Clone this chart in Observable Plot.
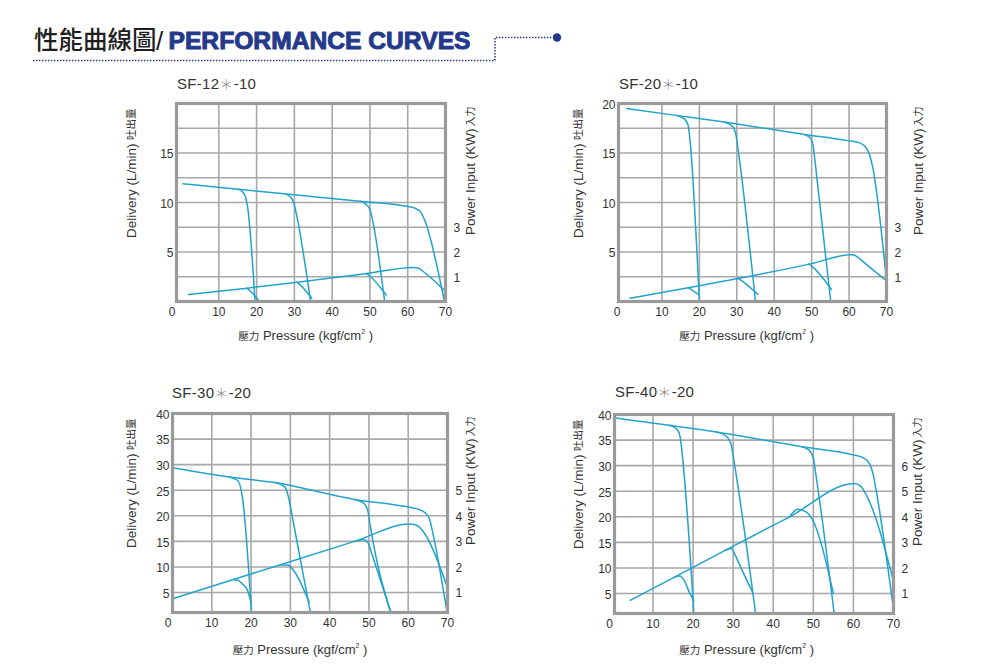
<!DOCTYPE html>
<html><head><meta charset="utf-8">
<script src="https://cdn.jsdelivr.net/npm/d3@7"></script>
<script src="https://cdn.jsdelivr.net/npm/@observablehq/plot@0.6"></script>
<style>
html,body{margin:0;padding:0;background:#fff;}
#page{position:relative;width:989px;height:669px;overflow:hidden;font-family:"Liberation Sans","Noto Sans CJK TC",sans-serif;}
.chart{position:absolute;}
#overlay{position:absolute;left:0;top:0;pointer-events:none;}
</style></head><body><div id="page"></div>
<script>
// ---------- texts ----------
const pageTitleZh = "性能曲線圖";
const pageTitleSlash = "/";
const pageTitleEn = "PERFORMANCE CURVES";
const models = ["SF-12＊-10", "SF-20＊-10", "SF-30＊-20", "SF-40＊-20"];
const yLabelEn = "Delivery (L/min)";
const yLabelZh = "吐出量";
const y2LabelEn = "Power Input (KW)";
const y2LabelZh = "入力";
const xLabelZh = "壓力";
const xLabelEn = " Pressure (kgf/cm";
const xLabelSup = "2";
const xLabelEnd = " )";

// ---------- ticks ----------
const xTickLabels = [0, 10, 20, 30, 40, 50, 60, 70];
const yGridSmall = [0, 2.5, 5, 7.5, 10, 12.5, 15, 17.5, 20];
const yGridLarge = [5, 10, 15, 20, 25, 30, 35, 40];
const yTicksSF12 = [5, 10, 15];
const yTicksSF20 = [5, 10, 15, 20];
const yTicksLarge = [5, 10, 15, 20, 25, 30, 35, 40];
const kwTicksSmall = [1, 2, 3];
const kwTicksSF30 = [1, 2, 3, 4, 5];
const kwTicksSF40 = [1, 2, 3, 4, 5, 6];

// ---------- data: [pressure kgf/cm2, delivery L/min] ----------
const sf12Delivery = [
  [[0.5,11.9],[15,11.35],[28,10.85],[48,10.1],[60,9.6],[62,9.4],[63.5,9.0],[64.5,8.2],[69.7,0]],
  [[15,11.35],[16.2,11.1],[17.1,10.5],[17.6,9.6],[19.6,0]],
  [[27.5,10.87],[29,10.55],[29.9,9.9],[30.5,8.9],[34.3,0]],
  [[47.5,10.12],[49,9.8],[50,9.3],[50.6,8.4],[53.9,0]]
];
// [pressure, power kW]
const sf12Power = [
  [[2,0.28],[17.5,0.54],[30.8,0.78],[49.2,1.13],[61.5,1.37],[62.7,1.35],[63.7,1.26],[64.7,1.14],[69.8,0.44]],
  [[17.4,0.54],[18.0,0.47],[20.5,0.05]],
  [[30.6,0.78],[31.3,0.7],[34.6,0.13]],
  [[49.1,1.13],[49.9,1.04],[54.3,0.26]]
];
const sf20Delivery = [
  [[0.6,19.5],[13.8,18.8],[27.1,18.1],[48.6,16.85],[59.5,16.25],[62.6,16.05],[64.4,15.6],[65.5,14.8],[66.3,13.6],[70,2.1]],
  [[13.8,18.8],[16,18.45],[17,17.8],[17.5,16.3],[20,0]],
  [[26.7,18.1],[28.8,17.7],[29.8,16.8],[30.3,15.5],[35,0]],
  [[48.2,16.85],[49.8,16.45],[50.5,15.5],[50.9,14.2],[55.1,0]]
];
const sf20Power = [
  [[1.5,0.13],[20,0.64],[30.7,0.94],[50,1.53],[60.4,1.89],[61.3,1.88],[62.4,1.78],[63.5,1.64],[70,0.83]],
  [[17.1,0.55],[17.8,0.48],[20,0.26]],
  [[30.3,0.94],[31,0.87],[35.6,0.29]],
  [[49.2,1.51],[50,1.43],[55.3,0.48]]
];
const sf30Delivery = [
  [[0.4,29.35],[14.4,27.6],[26,26.5],[46.4,23.2],[59.4,21.8],[62.5,21.3],[64.3,20.6],[65.5,19.2],[66.2,16.9],[69.7,2]],
  [[14.4,27.6],[16.5,26.95],[17.4,25.3],[17.9,23],[20.1,1.1]],
  [[26,26.5],[28.6,25.6],[29.6,23.4],[30.3,20.6],[35.1,1.1]],
  [[46.4,23.2],[48.8,22.4],[49.8,20.7],[50.2,18.7],[55.6,1.1]]
];
const sf30Power = [
  [[0,0.76],[15.5,1.51],[27.5,2.09],[46.5,3.01],[60.3,3.68],[61.8,3.65],[63.2,3.5],[64.3,3.28],[70,1.2]],
  [[15.5,1.51],[16.8,1.47],[17.8,1.33],[19,1.12],[20,0.6]],
  [[27.5,2.09],[29.5,2.07],[30.7,1.89],[34.8,0.62]],
  [[46.5,3.01],[48.6,3.07],[49.8,2.94],[50.6,2.58],[55.4,0.3]]
];
const sf40Delivery = [
  [[0.9,39.3],[14,37.9],[25.8,36.6],[47.2,33.7],[60,32.1],[62.3,31.6],[64,30.4],[64.9,28.4],[65.6,25.5],[69.9,2.5]],
  [[14.1,37.9],[16,37.1],[16.8,35.5],[17.2,33],[20.2,1.1]],
  [[25.8,36.6],[28.5,35.6],[29.6,33.8],[30.2,31],[35.6,1.1]],
  [[47.2,33.7],[49,33],[50,31.5],[50.5,29],[55.2,1.1]]
];
const sf40Power = [
  [[4.3,0.73],[15.5,1.65],[28,2.69],[44,3.99],[60.2,5.3],[61.8,5.2],[63.2,4.86],[69.9,1.54]],
  [[15.5,1.65],[16.7,1.69],[17.9,1.48],[19.2,1.0],[20.2,0.73]],
  [[28,2.69],[29.6,2.76],[30.4,2.54],[31.7,2.09],[35,1.0]],
  [[44,3.99],[46.1,4.3],[48.3,4.18],[49.6,3.94],[55,1.0]]
];

// ---------- styles ----------
const lineColor = "#22a3cb";
const gridColor = "#a8a8a8";
const frameColor = "#9a9a9a";
const navy = "#24398b";
const textColor = "#333";
const latin = "Liberation Sans, Arial, sans-serif";
const cjk = "Noto Sans CJK TC, sans-serif";

const M = {left: 70, right: 50, top: 12, bottom: 30};

const charts = [
  {model: models[0], box: [106, 91, 389, 240], xDomain: [-1.2, 70], yDomain: [0, 20], yGrid: yGridSmall, yTicks: yTicksSF12, kw: kwTicksSmall, factor: 2.5, delivery: sf12Delivery, power: sf12Power, zeroDx: -4.5, ylDx: -45, yrDx: 25, titlePos: [177, 88.5], xlab: [305.7, 340]},
  {model: models[1], box: [548, 91, 388, 240], xDomain: [-1.6, 70], yDomain: [0, 20], yGrid: yGridSmall, yTicks: yTicksSF20, kw: kwTicksSmall, factor: 2.5, delivery: sf20Delivery, power: sf20Power, zeroDx: -1.5, ylDx: -40, yrDx: 32, titlePos: [619, 88.5], xlab: [746.7, 340]},
  {model: models[2], box: [102, 401, 395, 241], xDomain: [0, 70], yDomain: [1.1, 40], yGrid: yGridLarge, yTicks: yTicksLarge, kw: kwTicksSF30, factor: 5, delivery: sf30Delivery, power: sf30Power, zeroDx: -4.5, ylDx: -41, yrDx: 23, titlePos: [172, 398.3], xlab: [300, 654]},
  {model: models[3], box: [544, 402, 399, 241], xDomain: [0.4, 70], yDomain: [1.1, 40], yGrid: yGridLarge, yTicks: yTicksLarge, kw: kwTicksSF40, factor: 5, delivery: sf40Delivery, power: sf40Power, zeroDx: -5, ylDx: -36, yrDx: 24, titlePos: [615, 396.5], xlab: [746.7, 654]}
];

function toRows(list, prefix, scale) {
  return list.flatMap((pts, i) => pts.map(([x, v]) => ({x, y: v * scale, id: prefix + i})));
}

const page = document.getElementById("page");

for (const c of charts) {
  const rows = toRows(c.delivery, "d", 1).concat(toRows(c.power, "p", c.factor));
  const [left, top, width, height] = c.box;
  const svg = Plot.plot({
    width, height,
    marginLeft: M.left, marginRight: M.right, marginTop: M.top, marginBottom: M.bottom,
    x: {domain: c.xDomain, label: null},
    y: {domain: c.yDomain, label: null},
    style: {fontFamily: latin, fontSize: "12px", color: textColor, background: "transparent", overflow: "visible"},
    marks: [
      Plot.ruleX(xTickLabels.slice(1, -1), {stroke: gridColor, strokeWidth: 1.6}),
      Plot.ruleY(c.yGrid, {stroke: gridColor, strokeWidth: 1.6}),
      Plot.line(rows, {x: "x", y: "y", z: "id", stroke: lineColor, strokeWidth: 1.5, curve: "monotone-x", clip: true}),
      Plot.frame({stroke: frameColor, strokeWidth: 3.2}),
      Plot.axisX(xTickLabels.slice(1), {tickSize: 0, tickPadding: 6, label: null}),
      Plot.text([xTickLabels[0]], {text: d => d, frameAnchor: "bottom-left", textAnchor: "middle", lineAnchor: "middle", dx: c.zeroDx, dy: 10.5, fontSize: 12, fill: textColor}),
      Plot.axisY(c.yTicks, {tickSize: 0, tickPadding: 3, dy: 1.5, label: null}),
      Plot.axisY(c.kw.map(k => k * c.factor), {anchor: "right", tickSize: 0, tickPadding: 8, dy: 1, tickFormat: d => d / c.factor, label: null}),
      Plot.text([yLabelZh], {text: d => d, frameAnchor: "top-left", rotate: -90, textAnchor: "end", lineAnchor: "middle", dx: c.ylDx, dy: 5, fontSize: 10.5, fontFamily: cjk, fill: textColor}),
      Plot.text([yLabelEn], {text: d => d, frameAnchor: "top-left", rotate: -90, textAnchor: "end", lineAnchor: "middle", dx: c.ylDx, dy: 40, fontSize: 13.5, fill: textColor}),
      Plot.text([y2LabelZh], {text: d => d, frameAnchor: "top-right", rotate: -90, textAnchor: "end", lineAnchor: "middle", dx: c.yrDx, dy: 3, fontSize: 10, fontFamily: cjk, fill: textColor}),
      Plot.text([y2LabelEn], {text: d => d, frameAnchor: "top-right", rotate: -90, textAnchor: "end", lineAnchor: "middle", dx: c.yrDx, dy: 25, fontSize: 13.5, fill: textColor})
    ]
  });
  const wrap = document.createElement("div");
  wrap.className = "chart";
  wrap.style.left = left + "px";
  wrap.style.top = top + "px";
  wrap.appendChild(svg);
  page.appendChild(wrap);
}

// ---------- overlay: header, model names, x labels ----------
const ov = d3.select(page).append("svg").attr("id", "overlay").attr("width", 989).attr("height", 669);
ov.append("path").attr("d", "M33,60.5H495V37.5H553").attr("fill", "none")
  .attr("stroke", navy).attr("stroke-width", 1.5).attr("stroke-dasharray", "1.4 1.6");
ov.append("circle").attr("cx", 557).attr("cy", 37.5).attr("r", 4.2).attr("fill", navy);
ov.append("text").attr("x", 34).attr("y", 49).attr("font-family", cjk).attr("font-size", 24.5)
  .attr("font-weight", 500).attr("fill", "#1e1e1e").text(pageTitleZh);
ov.append("text").attr("x", 156).attr("y", 49.5).attr("font-family", latin).attr("font-size", 26)
  .attr("fill", "#1e1e1e").text(pageTitleSlash);
ov.append("text").attr("x", 168.5).attr("y", 49).attr("font-family", latin).attr("font-size", 24.5)
  .attr("font-weight", "bold").attr("fill", navy).attr("stroke", navy).attr("stroke-width", 1)
  .attr("stroke-linejoin", "round")
  .attr("textLength", 302).attr("lengthAdjust", "spacingAndGlyphs").text(pageTitleEn);

for (const c of charts) {
  const [pre, post] = c.model.split("＊");
  const m = ov.append("text").attr("x", c.titlePos[0]).attr("y", c.titlePos[1]).attr("font-family", latin)
    .attr("font-size", 15).attr("letter-spacing", 0.3).attr("fill", textColor);
  m.append("tspan").text(pre);
  m.append("tspan").attr("font-family", cjk).attr("font-weight", 300).attr("font-size", 14).attr("fill", "#8a8a8a").text("＊");
  m.append("tspan").text(post);
  const t = ov.append("text").attr("x", c.xlab[0]).attr("y", c.xlab[1]).attr("text-anchor", "middle")
    .attr("fill", textColor).attr("font-family", latin);
  t.append("tspan").attr("font-family", cjk).attr("font-size", 10.5).text(xLabelZh);
  t.append("tspan").attr("font-size", 13).text(xLabelEn);
  t.append("tspan").attr("font-size", 7).attr("dy", -6).text(xLabelSup);
  t.append("tspan").attr("font-size", 13).attr("dy", 6).text(xLabelEnd);
}
</script>
</body></html>
